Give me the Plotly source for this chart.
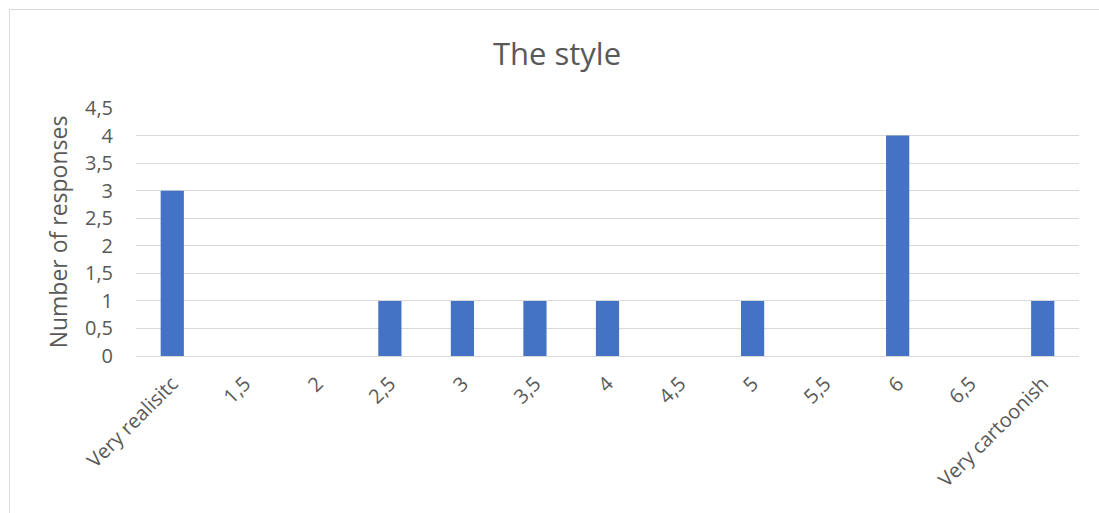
import plotly.graph_objects as go

categories = ["Very realisitc", "1,5", "2", "2,5", "3", "3,5", "4", "4,5", "5", "5,5", "6", "6,5", "Very cartoonish"]
responses = [3, 0, 0, 1, 1, 1, 1, 0, 1, 0, 4, 0, 1]
y_ticks = [0, 0.5, 1, 1.5, 2, 2.5, 3, 3.5, 4, 4.5]
y_tick_labels = ["0", "0,5", "1", "1,5", "2", "2,5", "3", "3,5", "4", "4,5"]

L, R, T, B = 136, 20, 108, 157
W, H = 1099, 513
pw, ph = W - L - R, H - T - B

fig = go.Figure(go.Bar(x=categories, y=responses, marker=dict(color="#4472c4", line=dict(width=0)), width=0.32))

fig.update_layout(
    width=W, height=H,
    margin=dict(l=L, r=R, t=T, b=B),
    paper_bgcolor="white", plot_bgcolor="white",
    font=dict(family="Open Sans", color="#595959"),
    title=dict(text="The style", x=(557 - L) / pw, xref="paper", xanchor="center",
               y=1 - 54 / H, yanchor="middle", font=dict(size=31, color="#595959")),
    xaxis=dict(tickangle=-45, tickfont=dict(size=20, color="#595959"), showgrid=False,
               showline=True, linecolor="#d9d9d9", linewidth=1, ticks="", ticklabelstandoff=7),
    yaxis=dict(range=[0, 4.5], tickvals=y_ticks, ticktext=y_tick_labels,
               tickfont=dict(size=20, color="#595959"), showgrid=True, gridcolor="#d9d9d9",
               gridwidth=1, zeroline=False, showline=False, ticks="", ticklabelstandoff=22,
               title=dict(text="Number of responses", font=dict(size=23, color="#595959"), standoff=10)),
    showlegend=False,
    shapes=[dict(type="rect", xref="paper", yref="paper",
                 x0=(9.5 - L) / pw, x1=(1110 - L) / pw,
                 y0=(H - B - 530) / ph, y1=(H - B - 9.5) / ph,
                 line=dict(color="#d9d9d9", width=1), fillcolor="rgba(0,0,0,0)", layer="below")],
)

fig.write_html("out.html")
